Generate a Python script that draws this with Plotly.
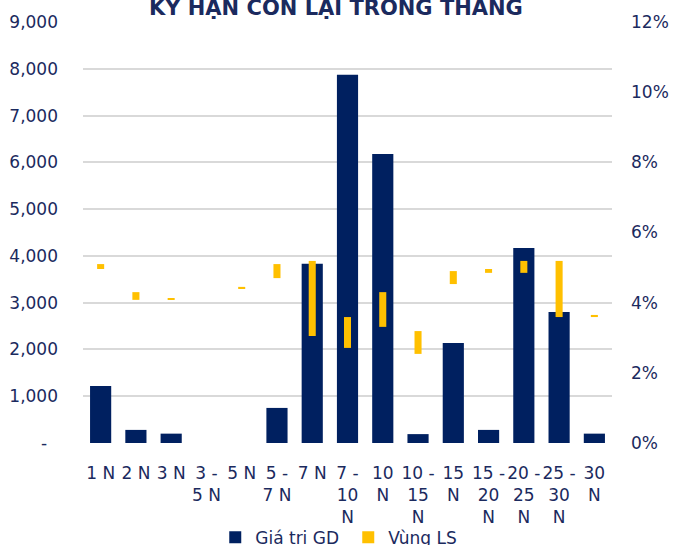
import plotly.graph_objects as go

# Remaining-term buckets
categories = ["1 N", "2 N", "3 N", "3 - 5 N", "5 N", "5 - 7 N", "7 N", "7 - 10 N",
              "10 N", "10 - 15 N", "15 N", "15 - 20 N", "20 - 25 N", "25 - 30 N", "30 N"]
tick_labels = ["1 N", "2 N", "3 N", "3 -<br>5 N", "5 N", "5 -<br>7 N", "7 N", "7 -<br>10<br>N",
               "10<br>N", "10 -<br>15<br>N", "15<br>N", "15 -<br>20<br>N", "20 -<br>25<br>N",
               "25 -<br>30<br>N", "30<br>N"]

# Trading value (left axis)
gia_tri_gd = [1220, 280, 200, 0, 0, 750, 3830, 7870, 6180, 190, 2140, 280, 4170, 2800, 200]

# Yield range, low / high (right axis, fraction)
ls_low = [0.0496, 0.0408, 0.0408, None, 0.0439, 0.0470, 0.0305, 0.0271, 0.0331, 0.0254,
          0.0453, 0.0485, 0.0485, 0.0359, 0.0359]
ls_high = [0.0510, 0.0430, 0.0413, None, 0.0445, 0.0510, 0.0519, 0.0359, 0.0430, 0.0319,
           0.0490, 0.0496, 0.0519, 0.0519, 0.0365]

left_ticks = list(range(0, 9001, 1000))
left_tick_text = ["-\u00a0\u00a0"] + [f"{v:,}" for v in left_ticks[1:]]

NAVY = "#002060"
YELLOW = "#FFC000"
TEXT = "#1B2A5E"
FONT = "DejaVu Sans"

ls_span = [None if lo is None else hi - lo for lo, hi in zip(ls_low, ls_high)]

fig = go.Figure()
fig.add_trace(go.Bar(
    x=categories, y=gia_tri_gd, name="Giá tri GD",
    marker=dict(color=NAVY, line=dict(width=0)),
    width=0.6, yaxis="y",
))
fig.add_trace(go.Bar(
    x=categories, y=ls_span, base=ls_low, name="Vùng LS",
    marker=dict(color=YELLOW, line=dict(width=0)),
    width=0.2, yaxis="y2",
))

fig.update_layout(
    template="none",
    width=673, height=545,
    margin=dict(l=83, r=61, t=22, b=102, autoexpand=False),
    paper_bgcolor="white", plot_bgcolor="white",
    barmode="overlay",
    font=dict(family=FONT, size=17, color=TEXT),
    showlegend=True,
    legend=dict(orientation="h", x=0.25, xanchor="left", y=-0.225, yanchor="middle",
                font=dict(family=FONT, size=17, color=TEXT), traceorder="normal",
                itemwidth=30, entrywidth=88, entrywidthmode="pixels",
                bgcolor="rgba(0,0,0,0)"),
    xaxis=dict(
        type="category", tickmode="array", tickvals=categories, ticktext=tick_labels,
        showgrid=False, zeroline=False, showline=False, ticks="",
        tickfont=dict(family=FONT, size=17, color=TEXT), tickangle=0,
        ticklabelstandoff=18, automargin=False,
    ),
    yaxis=dict(
        range=[0, 9000], tickmode="array", tickvals=left_ticks, ticktext=left_tick_text,
        showgrid=True, gridcolor="#D9D9D9", gridwidth=1.5, zeroline=False, showline=False,
        ticks="", tickfont=dict(family=FONT, size=17, color=TEXT),
        ticklabelstandoff=24, automargin=False,
    ),
    yaxis2=dict(
        range=[0, 0.12], dtick=0.02, tickformat=".0%", overlaying="y", side="right",
        showgrid=False, zeroline=False, showline=False, ticks="",
        tickfont=dict(family=FONT, size=17, color=TEXT),
        ticklabelstandoff=18, automargin=False,
    ),
    annotations=[dict(
        text="<b>KỲ HẠN CÒN LẠI TRONG THÁNG</b>", xref="paper", yref="paper",
        x=0.478, y=1.034, xanchor="center", yanchor="middle", showarrow=False,
        font=dict(family=FONT, size=21, color=TEXT),
    )],
)

fig.write_html("out.html")
